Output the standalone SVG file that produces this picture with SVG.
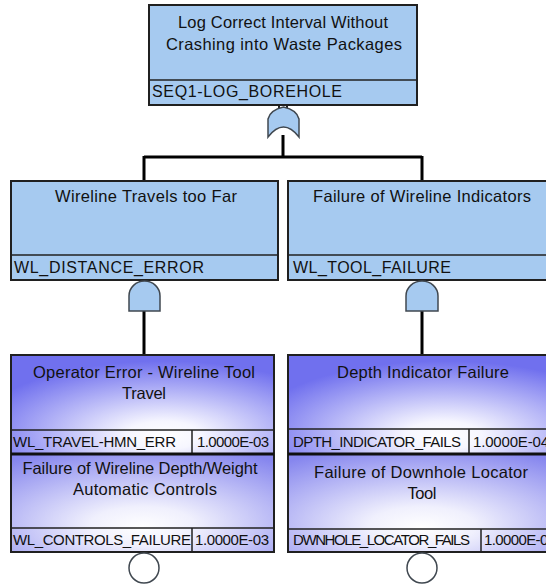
<svg xmlns="http://www.w3.org/2000/svg" width="546" height="584" viewBox="0 0 546 584">
<defs>
<radialGradient id="g1" cx="0.58" cy="0.78" r="0.72" fx="0.58" fy="0.82">
<stop offset="0" stop-color="#ffffff"/>
<stop offset="0.2" stop-color="#f6f6ff"/>
<stop offset="1" stop-color="#7070ee"/>
</radialGradient>
<radialGradient id="g2" cx="0.5" cy="0.7" r="0.8" fx="0.5" fy="0.75">
<stop offset="0" stop-color="#ffffff"/>
<stop offset="0.25" stop-color="#f0f0fd"/>
<stop offset="1" stop-color="#8686ee"/>
</radialGradient>
<style>
.gate{fill:#a6caf0;stroke:#404850;stroke-width:1.5}
.box{fill:#a6caf0;stroke:#202020;stroke-width:2}
.ev{stroke:#202020;stroke-width:2}
.div{stroke:#202020;stroke-width:1.5;fill:none}
.sep{stroke:#101010;stroke-width:3;fill:none}
.wire{stroke:#000;stroke-width:3;fill:none}
.stub{stroke:#202020;stroke-width:2;fill:none}
text{font-family:"Liberation Sans",Arial,sans-serif;fill:#111}
.t{font-size:16.5px;text-anchor:middle}
.id{font-size:16px}
.sid{font-size:15px}
.circ{fill:#ffffff;stroke:#404850;stroke-width:1.5}
</style>
</defs>
<g id="connectors">
<path class="wire" d="M283,135 V157 M144,157 H422 M144,156 V181 M422,156 V181 M144,311 V355 M422,311 V355"/>
<path class="stub" d="M279,105 V108 M287,105 V108 M140,280 V282 M148,280 V282 M418,280 V282 M426,280 V282"/>
</g>
<g id="top">
<rect class="box" x="149" y="5" width="268" height="100"/>
<line class="div" x1="149" y1="80" x2="417" y2="80"/>
<text class="t" x="283" y="28" textLength="210" lengthAdjust="spacing">Log Correct Interval Without</text>
<text class="t" x="284" y="50" textLength="236" lengthAdjust="spacing">Crashing into Waste Packages</text>
<text class="id" x="152" y="97" textLength="190" lengthAdjust="spacing">SEQ1-LOG_BOREHOLE</text>
</g>
<g id="or-gate">
<path class="gate" d="M268,137 V119 Q270,110 283.5,107 Q297,110 299,119 V137 Q283.5,117 268,137 Z"/>
</g>
<g id="wl-distance">
<rect class="box" x="11" y="181" width="267" height="99"/>
<line class="div" x1="11" y1="255" x2="278" y2="255"/>
<text class="t" x="146" y="202" textLength="182" lengthAdjust="spacing">Wireline Travels too Far</text>
<text class="id" x="14" y="273" textLength="190" lengthAdjust="spacing">WL_DISTANCE_ERROR</text>
</g>
<g id="wl-tool">
<rect class="box" x="288" y="181" width="268" height="99"/>
<line class="div" x1="288" y1="255" x2="556" y2="255"/>
<text class="t" x="422" y="202" textLength="218" lengthAdjust="spacing">Failure of Wireline Indicators</text>
<text class="id" x="293" y="273" textLength="158" lengthAdjust="spacing">WL_TOOL_FAILURE</text>
</g>
<g id="and-left">
<path class="gate" d="M129,311 V296 A15.5,15 0 0 1 160,296 V311 Z"/>
</g>
<g id="and-right">
<path class="gate" d="M406,311 V296 A16,15 0 0 1 438,296 V311 Z"/>
</g>
<g id="wl-travel-hmn-err">
<rect class="ev" fill="url(#g1)" x="11" y="355" width="263" height="99"/>
<line class="div" x1="11" y1="430" x2="274" y2="430"/>
<line class="div" x1="192" y1="430" x2="192" y2="454"/>
<text class="t" x="144" y="378" textLength="222" lengthAdjust="spacing">Operator Error - Wireline Tool</text>
<text class="t" x="144" y="399" textLength="44" lengthAdjust="spacing">Travel</text>
<text class="sid" x="13" y="447" textLength="163" lengthAdjust="spacing">WL_TRAVEL-HMN_ERR</text>
<text class="sid" x="197" y="447" textLength="72" lengthAdjust="spacing">1.0000E-03</text>
</g>
<g id="wl-controls-failure">
<rect class="ev" fill="url(#g2)" x="11" y="454" width="263" height="98"/>
<line class="div" x1="11" y1="528" x2="274" y2="528"/>
<line class="div" x1="192" y1="528" x2="192" y2="552"/>
<text class="t" x="140" y="474" textLength="235" lengthAdjust="spacing">Failure of Wireline Depth/Weight</text>
<text class="t" x="145" y="495" textLength="144" lengthAdjust="spacing">Automatic Controls</text>
<text class="sid" x="13" y="545" textLength="178" lengthAdjust="spacing">WL_CONTROLS_FAILURE</text>
<text class="sid" x="195" y="545" textLength="74" lengthAdjust="spacing">1.0000E-03</text>
</g>
<g id="dpth-indicator-fails">
<rect class="ev" fill="url(#g1)" x="288" y="355" width="268" height="99"/>
<line class="div" x1="288" y1="429" x2="556" y2="429"/>
<line class="div" x1="469" y1="429" x2="469" y2="454"/>
<text class="t" x="423" y="378" textLength="172" lengthAdjust="spacing">Depth Indicator Failure</text>
<text class="sid" x="293" y="447" textLength="168" lengthAdjust="spacing">DPTH_INDICATOR_FAILS</text>
<text class="sid" x="473" y="447" textLength="76" lengthAdjust="spacing">1.0000E-04</text>
</g>
<g id="dwnhole-locator-fails">
<rect class="ev" fill="url(#g2)" x="288" y="454" width="268" height="98"/>
<line class="div" x1="288" y1="529" x2="556" y2="529"/>
<line class="div" x1="481" y1="529" x2="481" y2="552"/>
<text class="t" x="421" y="478" textLength="214" lengthAdjust="spacing">Failure of Downhole Locator</text>
<text class="t" x="422" y="499" textLength="29" lengthAdjust="spacing">Tool</text>
<text class="sid" x="293" y="545" font-size="14" textLength="177" lengthAdjust="spacing">DWNHOLE_LOCATOR_FAILS</text>
<text class="sid" x="484" y="545" font-size="14" textLength="72" lengthAdjust="spacing">1.0000E-03</text>
</g>
<path class="sep" d="M11,454 H274 M288,454 H556"/>
<g id="circle-left"><circle class="circ" cx="144" cy="568" r="15"/></g>
<g id="circle-right"><circle class="circ" cx="422" cy="568" r="15"/></g>
</svg>
